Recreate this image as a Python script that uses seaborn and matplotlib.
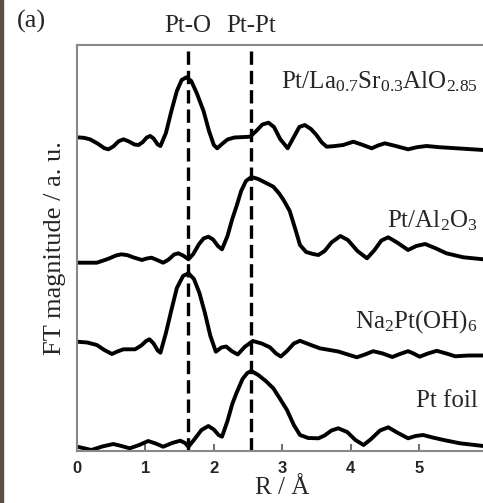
import numpy as np
import pandas as pd
import matplotlib.pyplot as plt
import seaborn as sns
from matplotlib.patches import Rectangle

# ------------------------------------------------------------
# FT-EXAFS magnitudes (stacked, arbitrary units)
# ------------------------------------------------------------
r_lsao = [0.00, 0.10, 0.19, 0.30, 0.40, 0.46, 0.53, 0.61, 0.68, 0.76, 0.84, 0.90,
          0.96, 1.02, 1.07, 1.12, 1.18, 1.22, 1.30, 1.38, 1.46, 1.53, 1.60, 1.67,
          1.75, 1.85, 1.93, 2.00, 2.05, 2.12, 2.20, 2.30, 2.45, 2.53, 2.62, 2.71,
          2.80, 2.88, 2.97, 3.08, 3.17, 3.25, 3.33, 3.42, 3.50, 3.58, 3.65, 3.75,
          3.89, 4.04, 4.16, 4.31, 4.40, 4.50, 4.66, 4.84, 4.97, 5.11, 5.30, 5.55, 5.94]
y_lsao = [313.7, 313.2, 311.7, 307.5, 302.8, 301.7, 304.5, 309.8, 311.7, 309.5, 306.5, 306.0,
          308.8, 313.5, 315.0, 312.5, 306.5, 305.0, 318.0, 340.0, 360.0, 371.0, 373.7, 370.0,
          358.0, 340.0, 320.0, 306.0, 302.7, 307.0, 311.5, 313.5, 314.0, 314.3, 320.0, 326.5,
          328.3, 324.0, 312.0, 302.7, 314.0, 324.0, 326.0, 322.0, 316.0, 308.5, 304.3, 304.8,
          306.0, 309.3, 306.5, 302.7, 305.5, 307.7, 305.0, 301.7, 303.8, 305.0, 303.8, 302.7, 301.0]

r_al2o3 = [0.00, 0.29, 0.45, 0.57, 0.65, 0.74, 0.82, 0.95, 1.02, 1.09, 1.17, 1.26,
           1.34, 1.42, 1.48, 1.55, 1.63, 1.70, 1.78, 1.85, 1.92, 1.99, 2.06, 2.12,
           2.20, 2.27, 2.33, 2.40, 2.47, 2.55, 2.65, 2.75, 2.87, 2.95, 3.02, 3.11,
           3.20, 3.26, 3.35, 3.45, 3.53, 3.62, 3.72, 3.85, 3.96, 4.10, 4.24, 4.35,
           4.45, 4.55, 4.68, 4.84, 4.96, 5.09, 5.25, 5.40, 5.65, 5.94]
y_al2o3 = [188.3, 188.3, 192.0, 195.5, 196.7, 195.8, 193.7, 191.0, 192.5, 193.3, 191.0, 188.3,
           191.5, 196.5, 197.7, 195.5, 191.7, 197.0, 206.5, 212.5, 214.3, 211.5, 205.0, 201.7,
           215.0, 232.0, 244.3, 260.0, 270.0, 274.0, 272.0, 268.5, 264.3, 258.0, 251.0, 240.0,
           220.0, 206.0, 199.0, 197.0, 196.0, 200.0, 208.5, 215.0, 211.0, 200.0, 192.7, 201.0,
           210.5, 213.7, 208.5, 201.0, 205.0, 207.0, 202.5, 197.7, 193.7, 191.7]

r_na = [0.00, 0.15, 0.29, 0.40, 0.51, 0.59, 0.68, 0.85, 0.94, 1.01, 1.06, 1.12,
        1.18, 1.22, 1.30, 1.38, 1.46, 1.55, 1.63, 1.71, 1.79, 1.87, 1.95, 2.03,
        2.11, 2.18, 2.26, 2.35, 2.45, 2.57, 2.70, 2.82, 2.91, 2.98, 3.07, 3.17,
        3.26, 3.40, 3.55, 3.82, 3.96, 4.09, 4.21, 4.33, 4.47, 4.61, 4.72, 4.84,
        4.92, 5.01, 5.13, 5.26, 5.40, 5.53, 5.72, 5.94]
y_na = [109.3, 108.5, 106.0, 101.0, 97.0, 99.5, 101.7, 101.7, 105.5, 110.0, 111.7, 107.5,
        100.5, 98.3, 118.0, 141.0, 163.0, 175.0, 177.7, 172.0, 158.0, 138.0, 115.0, 99.3,
        103.5, 104.5, 100.0, 96.5, 104.0, 110.0, 107.5, 103.7, 97.5, 94.5, 100.0, 107.5,
        110.2, 106.5, 102.7, 99.5, 96.5, 93.7, 96.5, 99.8, 97.5, 94.0, 97.0, 99.8,
        97.5, 94.3, 97.5, 100.2, 97.5, 94.7, 95.5, 95.5]

r_foil = [0.00, 0.10, 0.21, 0.37, 0.53, 0.65, 0.77, 0.91, 1.04, 1.15, 1.26, 1.39,
          1.51, 1.58, 1.63, 1.72, 1.82, 1.92, 2.00, 2.07, 2.12, 2.20, 2.27, 2.33,
          2.42, 2.49, 2.55, 2.65, 2.76, 2.87, 2.97, 3.07, 3.17, 3.26, 3.38, 3.53,
          3.62, 3.72, 3.82, 3.95, 4.07, 4.19, 4.30, 4.43, 4.55, 4.68, 4.84, 4.95,
          5.06, 5.20, 5.36, 5.60, 5.94]
y_foil = [4.3, 2.8, 1.0, 4.5, 7.0, 5.0, 2.7, 6.0, 10.0, 7.5, 4.3, 8.0,
          10.3, 8.0, 4.3, 12.0, 21.0, 25.0, 21.5, 16.0, 14.3, 30.0, 47.0, 57.7,
          72.0, 78.0, 80.0, 76.0, 70.0, 62.7, 52.0, 41.0, 26.0, 16.0, 13.0, 12.7,
          15.5, 20.5, 22.7, 19.0, 11.0, 6.0, 12.0, 20.5, 23.7, 18.5, 12.7, 15.0,
          16.0, 13.5, 11.0, 7.7, 5.0]

labels = [r"Pt/La$_{0.7}$Sr$_{0.3}$AlO$_{2.85}$", r"Pt/Al$_2$O$_3$",
          r"Na$_2$Pt(OH)$_6$", "Pt foil"]
label_y = [363, 224, 123, 44]

bond_names = ["Pt-O", "Pt-Pt"]
bond_r = [1.62, 2.54]

series = [(r_lsao, y_lsao), (r_al2o3, y_al2o3), (r_na, y_na), (r_foil, y_foil)]
df = pd.concat([pd.DataFrame({"R": r, "FT": y, "sample": lab})
                for (r, y), lab in zip(series, labels)])

# ------------------------------------------------------------
# PLOT
# ------------------------------------------------------------
sns.set_style("white")
plt.rcParams["mathtext.fontset"] = "custom"
plt.rcParams["mathtext.rm"] = "Liberation Serif"
plt.rcParams["mathtext.it"] = "Liberation Serif:italic"

fig = plt.figure(figsize=(4.83, 5.03), dpi=100)
ax = fig.add_axes([77 / 483, 52 / 503, 410.4 / 483, 406 / 503])

for lab in labels:
    sns.lineplot(data=df[df["sample"] == lab], x="R", y="FT", color="black",
                 linewidth=2.8, ax=ax, legend=False)
for line in ax.lines:
    line.set_solid_joinstyle("round")

for r in bond_r:
    ax.axvline(r, ymin=0, ymax=0.99, color="black", linestyle=(0, (4, 1.8)), linewidth=2.4)

for lab, y in zip(labels, label_y):
    ax.text(5.86, y, lab, ha="right", va="baseline", fontsize=18,
            family="Liberation Serif")

ax.set_xlim(0, 6)
ax.set_ylim(0, 406)
ax.set_yticks([])
ax.set_xticks(range(6))
ax.set_xticklabels([str(i) for i in range(6)], fontsize=12, fontweight="bold",
                   family="Liberation Sans")
ax.tick_params(axis="x", direction="in", length=5, width=1.2, color="#555555",
               bottom=True, pad=7)
for s in ["left", "top", "bottom"]:
    ax.spines[s].set_color("#888888")
    ax.spines[s].set_linewidth(1.5)
ax.spines["right"].set_visible(False)

ax.set_xlabel("R / Å", fontsize=18, family="Liberation Serif", labelpad=1)
ax.set_ylabel("FT magnitude / a. u.", fontsize=19, family="Liberation Serif", labelpad=8)

for name, r in zip(bond_names, bond_r):
    ax.text(r, 419, name, ha="center", va="baseline", fontsize=18,
            family="Liberation Serif")
fig.text(17 / 483, 1 - 28 / 503, "(a)", fontsize=19, family="Liberation Serif",
         va="baseline", ha="left")

# dark strip at the left edge of the original screenshot
fig.add_artist(Rectangle((0, 0), 3 / 483, 1, transform=fig.transFigure,
                         color="#5a4d44", zorder=10))

fig.savefig("out.png", dpi=100)
